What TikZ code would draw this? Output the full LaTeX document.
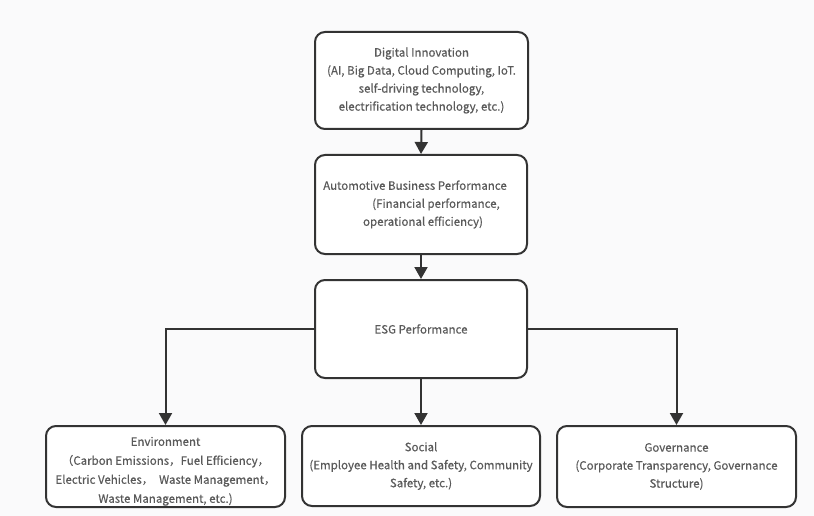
\documentclass[tikz,border=0pt]{standalone}
\usepackage{fontspec}
\newfontfamily\cjk[FakeBold=0.4]{Noto Sans CJK SC}
\usetikzlibrary{arrows.meta}
\definecolor{pagebg}{HTML}{FAFAFB}
\definecolor{edge}{HTML}{333333}
\definecolor{label}{HTML}{5A5A5A}
\tikzset{
  box/.style={draw=edge, line width=2pt, rounded corners=10pt, fill=white,
    inner sep=0pt, align=center, text=label,
    font=\cjk\fontsize{11.5}{18}\selectfont},
  link/.style={draw=edge, line width=2pt,
    -{Triangle[width=13pt,length=12pt]}}
}
\begin{document}
\begin{tikzpicture}[x=1pt,y=-1pt]
  % page
  \fill[pagebg] (0,0) rectangle (814,516);
  \useasboundingbox (0,0) rectangle (814,516);

  % boxes
  \node[box, minimum width=213pt, minimum height=97pt] (di) at (421.5,80.5)
    {Digital Innovation\\(AI, Big Data, Cloud Computing, IoT.\\self-driving technology,\\electrification technology, etc.)};
  \node[box, minimum width=212pt, minimum height=99pt] (abp) at (421,204.5)
    {Automotive Business Performance\hspace*{12pt}\\\hspace*{30pt}(Financial performance,\\\hspace*{4pt}operational efficiency)};
  \node[box, minimum width=212pt, minimum height=98pt] (esg) at (421,329)
    {ESG Performance};
  \node[box, minimum width=239pt, minimum height=81pt, font=\cjk\fontsize{11.5}{19}\selectfont] (env) at (165.5,466.5)
    {\rule{0pt}{18.5pt}Environment\\（Carbon Emissions，Fuel Efficiency，\\Electric Vehicles，\hspace{0.5em}Waste Management，\\Waste Management, etc.)};
  \node[box, minimum width=238pt, minimum height=80pt] (soc) at (421,466)
    {Social\\(Employee Health and Safety, Community\\Safety, etc.)};
  \node[box, minimum width=239pt, minimum height=81pt] (gov) at (676.5,466.5)
    {Governance\\(Corporate Transparency, Governance\\Structure)};

  % connectors
  \draw[link] (di.south) -- (abp.north);
  \draw[link] (abp.south) -- (esg.north);
  \draw[link] (esg.south) -- (soc.north);
  \draw[link] (esg.west) -| (env.north);
  \draw[link] (esg.east) -| (gov.north);
\end{tikzpicture}
\end{document}
